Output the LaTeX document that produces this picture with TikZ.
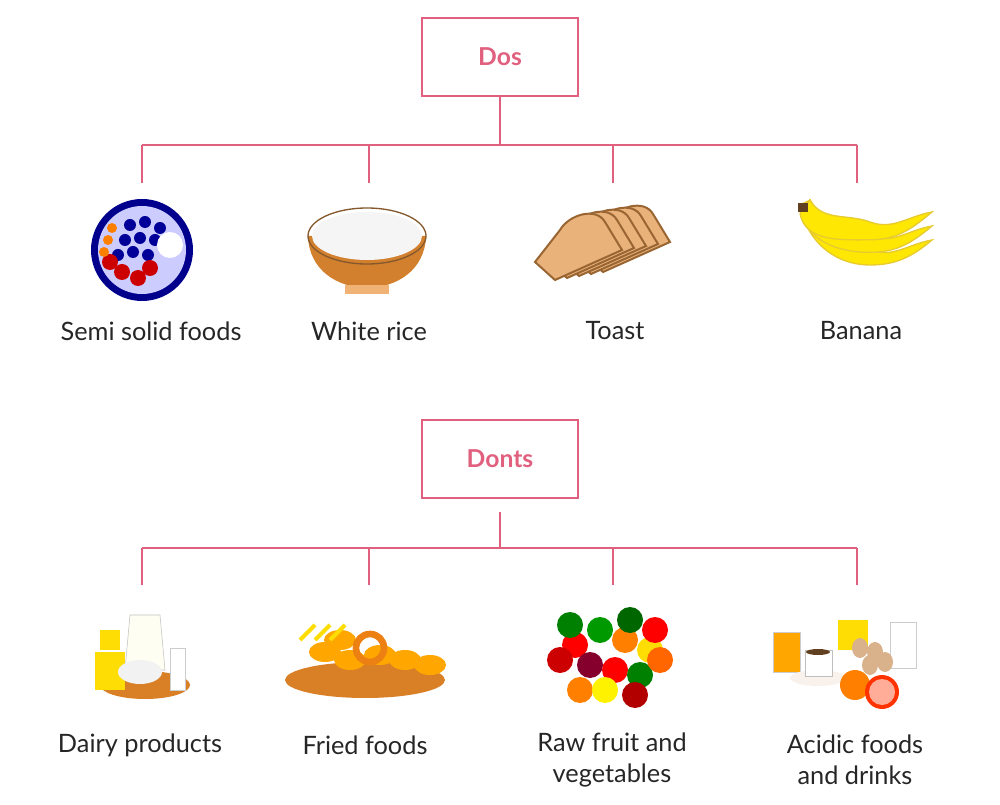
\documentclass[tikz,border=0pt]{standalone}
\usepackage{fontspec}
\setmainfont{Lato}
\begin{document}
\begin{tikzpicture}[x=0.75pt,y=-0.75pt,
  pk/.style={draw=pinkc,line width=1.3pt},
  box/.style={pk,minimum width=117pt,minimum height=58pt,inner sep=0,font=\bfseries\fontsize{18.5}{22}\selectfont,text=pinkc},
  lab/.style={font=\fontsize{19}{23}\selectfont,text=black!85,align=center}]
\definecolor{pinkc}{HTML}{E0607E}
\useasboundingbox (0,0) rectangle (1000,805);
% Dos
\node[box] (dos) at (500,57) {Dos};
\coordinate (d0) at (500,145);
\draw[pk] (dos.south) -- (d0);
\coordinate (h1) at (142,145); \coordinate (h2) at (369,145); \coordinate (h3) at (613,145); \coordinate (h4) at (857,145);
\draw[pk] (h1) -- (h4);
\coordinate (e1) at (142,183); \coordinate (e2) at (369,183); \coordinate (e3) at (613,183); \coordinate (e4) at (857,183);
\draw[pk] (h1)--(e1) (h2)--(e2) (h3)--(e3) (h4)--(e4);
\node[lab] (l1) at (151,331) {Semi solid foods};
\node[lab] (l2) at (369,331) {White rice};
\node[lab] (l3) at (615,331) {Toast};
\node[lab] (l4) at (861,331) {Banana};
% Donts
\node[box] (donts) at (500,459) {Donts};
\coordinate (g0) at (500,548);
\coordinate (g1) at (500,512);
\draw[pk] (g1) -- (g0);
\coordinate (k1) at (142,548); \coordinate (k2) at (369,548); \coordinate (k3) at (613,548); \coordinate (k4) at (857,548);
\draw[pk] (k1) -- (k4);
\coordinate (f1) at (142,585); \coordinate (f2) at (369,585); \coordinate (f3) at (613,585); \coordinate (f4) at (857,585);
\draw[pk] (k1)--(f1) (k2)--(f2) (k3)--(f3) (k4)--(f4);
\node[lab] (m1) at (140,745) {Dairy products};
\node[lab] (m2) at (365,745) {Fried foods};
\node[lab] (m3) at (612,760) {Raw fruit and\\vegetables};
\node[lab] (m4) at (855,760) {Acidic foods\\and drinks};
% --- illustrations
% berry bowl
\fill[blue!55!black] (142,250) circle (51);
\fill[blue!20!white] (142,250) circle (44);
\foreach \a/\b in {130/225,145/222,160/228,125/240,140/238,155/240,118/255,133/252,148/255}
  \fill[blue!60!black] (\a,\b) circle (6);
\foreach \a/\b in {122/272,138/278,150/268,110/262}
  \fill[red!80!black] (\a,\b) circle (8);
\foreach \a/\b in {108/240,112/228,104/252}
  \fill[orange] (\a,\b) circle (5);
\fill[white] (170,245) circle (13);
% rice bowl
\fill[brown!70!orange] (308,236) .. controls (310,305) and (424,305) .. (426,236) -- cycle;
\fill[brown!40!orange!60!white] (345,285) rectangle (389,294);
\fill[white!92!gray] (367,236) ellipse (55 and 24);
\draw[brown!70!black,line width=1pt] (367,236) ellipse (59 and 28);
% toast
\foreach \i in {4,3,2,1,0}
  \filldraw[fill=orange!45!brown!60!white,draw=brown!80!black,line width=1.5pt]
   (555+12*\i,280-2*\i) -- (535+12*\i,262-2*\i) -- (560+12*\i,230-2*\i) to[out=60,in=120] (605+12*\i,222-2*\i) -- (622+12*\i,250-2*\i) -- cycle;
% banana
\foreach \s in {0,14,28}
  \filldraw[fill=yellow!90!orange,draw=yellow!60!brown,line width=1pt]
   (800,205+\s*0.3) to[out=-80,in=180] (870,265-\s*0.9) to[out=0,in=220] (932,240-\s) to[out=190,in=-20] (870,250-\s) to[out=160,in=-60] (810,200) -- cycle;
\fill[brown!50!black] (798,203) rectangle (808,212);
% dairy
\fill[brown!60!orange] (145,685) ellipse (45 and 14);
\filldraw[fill=white!95!yellow,draw=gray!50] (130,615) -- (160,615) -- (165,670) -- (125,670) -- cycle;
\fill[yellow!80!orange] (95,652) rectangle (125,690);
\fill[yellow!80!orange] (100,630) rectangle (120,650);
\filldraw[fill=white,draw=gray!40] (170,648) rectangle (185,690);
\fill[white!90!gray] (140,672) ellipse (22 and 12);
% fried
\fill[brown!60!orange] (365,680) ellipse (80 and 18);
\foreach \a/\b in {325/652,350/660,380/655,405/660,430/665,340/640}
  \fill[orange!70!yellow] (\a,\b) ellipse (16 and 10);
\draw[orange!70!brown,line width=5pt] (370,648) circle (14);
\foreach \a in {300,315,330} \draw[yellow!80!orange,line width=3pt] (\a,640) -- (\a+15,625);
% vegetables
\foreach \a/\b/\c in {575/645/red,600/630/green!60!black,625/640/orange,650/650/yellow!80!orange,560/660/red!80!black,590/665/purple!70!black,615/670/red,640/675/green!50!black,660/660/orange!80!red,580/690/orange,605/690/yellow,635/695/red!70!black,570/625/green!50!black,630/620/green!40!black,655/630/red}
  \fill[\c] (\a,\b) circle (13);
% acidic
\filldraw[fill=orange!70!yellow,draw=gray!40] (773,632) rectangle (800,672);
\filldraw[fill=white,draw=gray!40] (890,622) rectangle (916,668);
\fill[yellow!80!orange] (838,620) rectangle (868,650);
\fill[white!90!brown] (818,678) ellipse (28 and 8);
\filldraw[fill=white,draw=gray!50] (805,650) rectangle (832,676);
\fill[brown!50!black] (818,652) ellipse (12 and 3);
\foreach \a/\b in {860/648,875/652,870/665,885/662}
  \fill[brown!60!white] (\a,\b) ellipse (8 and 10);
\fill[orange] (855,685) circle (15);
\fill[red!60!orange] (882,692) circle (17);
\fill[orange!40!red!40!white] (882,692) circle (13);
\end{tikzpicture}
\end{document}
